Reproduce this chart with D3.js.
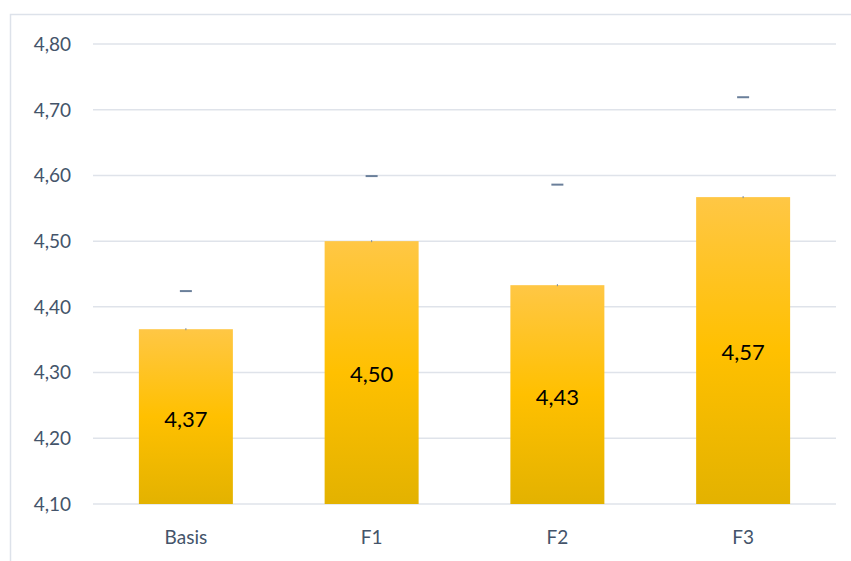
<!DOCTYPE html>
<html>
<head>
<meta charset="utf-8">
<script src="https://cdn.jsdelivr.net/npm/d3@7"></script>
<style>
  body { margin: 0; background: #fff; }
  text { font-family: Lato, "Noto Sans", sans-serif; }
</style>
</head>
<body>
<div id="chart"></div>
<script>
var categories = ["Basis", "F1", "F2", "F3"];
var values = [4.366, 4.500, 4.433, 4.567];
var labels = ["4,37", "4,50", "4,43", "4,57"];
var markers = [4.424, 4.599, 4.586, 4.719];
var yTicks = [4.10, 4.20, 4.30, 4.40, 4.50, 4.60, 4.70, 4.80];

var width = 851, height = 561;
var svg = d3.select("#chart").append("svg")
  .attr("width", width)
  .attr("height", height);

// outer frame (left + top only visible)
svg.append("path")
  .attr("d", "M10.5,561 V14.5 H851")
  .attr("fill", "none")
  .attr("stroke", "#dde2ea")
  .attr("stroke-width", 1.5);

var x = d3.scaleBand().domain(categories).range([93, 836]).paddingInner(0.494).paddingOuter(0.247);
var y = d3.scaleLinear().domain([4.10, 4.80]).range([504, 44]);

var grad = svg.append("defs").append("linearGradient")
  .attr("id", "barGrad").attr("x1", 0).attr("y1", 0).attr("x2", 0).attr("y2", 1);
grad.append("stop").attr("offset", "0%").attr("stop-color", "#ffc745");
grad.append("stop").attr("offset", "50%").attr("stop-color", "#ffc000");
grad.append("stop").attr("offset", "100%").attr("stop-color", "#e3b200");

// gridlines
svg.selectAll(".grid").data(yTicks).enter().append("line")
  .attr("x1", 93).attr("x2", 836)
  .attr("y1", function(d) { return y(d); })
  .attr("y2", function(d) { return y(d); })
  .attr("stroke", "#dfe3ea")
  .attr("stroke-width", 1.5);

svg.selectAll(".ylab").data(yTicks).enter().append("text")
  .attr("x", 71)
  .attr("y", function(d) { return y(d); })
  .attr("dy", "0.36em")
  .attr("text-anchor", "end")
  .attr("font-size", 19)
  .attr("fill", "#44546a")
  .text(function(d) { return d.toFixed(2).replace(".", ","); });

// bars
svg.selectAll(".bar").data(values).enter().append("rect")
  .attr("x", function(d, i) { return x(categories[i]); })
  .attr("y", function(d) { return y(d); })
  .attr("width", x.bandwidth())
  .attr("height", function(d) { return y(4.10) - y(d); })
  .attr("fill", "url(#barGrad)");

// tiny error ticks on bar tops
svg.selectAll(".etick").data(values).enter().append("line")
  .attr("x1", function(d, i) { return x(categories[i]) + x.bandwidth() / 2; })
  .attr("x2", function(d, i) { return x(categories[i]) + x.bandwidth() / 2; })
  .attr("y1", function(d) { return y(d) - 1; })
  .attr("y2", function(d) { return y(d) + 1; })
  .attr("stroke", "#7a8aa0")
  .attr("stroke-width", 1);

// marker dashes
svg.selectAll(".mark").data(markers).enter().append("line")
  .attr("x1", function(d, i) { return x(categories[i]) + x.bandwidth() / 2 - 6; })
  .attr("x2", function(d, i) { return x(categories[i]) + x.bandwidth() / 2 + 6; })
  .attr("y1", function(d) { return y(d); })
  .attr("y2", function(d) { return y(d); })
  .attr("stroke", "#6a7f9a")
  .attr("stroke-width", 2);

// value labels
svg.selectAll(".vlab").data(values).enter().append("text")
  .attr("x", function(d, i) { return x(categories[i]) + x.bandwidth() / 2; })
  .attr("y", function(d) { return (y(d) + y(4.10)) / 2 + 2; })
  .attr("dy", "0.36em")
  .attr("text-anchor", "middle")
  .attr("font-size", 22)
  .attr("fill", "#000")
  .text(function(d, i) { return labels[i]; });

// category labels
svg.selectAll(".xlab").data(categories).enter().append("text")
  .attr("x", function(d) { return x(d) + x.bandwidth() / 2; })
  .attr("y", 537)
  .attr("dy", "0.36em")
  .attr("text-anchor", "middle")
  .attr("font-size", 19)
  .attr("fill", "#44546a")
  .text(function(d) { return d; });
</script>
</body>
</html>
